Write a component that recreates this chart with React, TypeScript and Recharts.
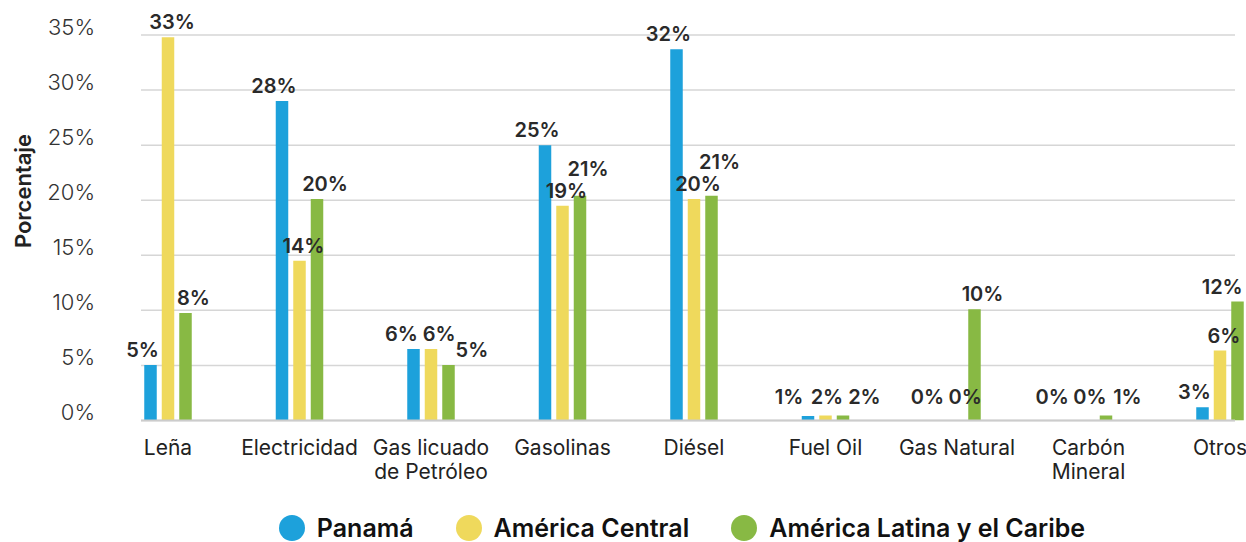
import React from "react";
import {
  BarChart,
  Bar,
  XAxis,
  YAxis,
  CartesianGrid,
  Legend,
  LabelList,
  Label,
} from "recharts";

const categories = [
  "Leña",
  "Electricidad",
  "Gas licuado\nde Petróleo",
  "Gasolinas",
  "Diésel",
  "Fuel Oil",
  "Gas Natural",
  "Carbón\nMineral",
  "Otros",
];

// bar heights as drawn (percent)
const panama = [5.05, 29.0, 6.5, 25.0, 33.7, 0.4, 0, 0, 1.2];
const americaCentral = [34.8, 14.5, 6.5, 19.5, 20.1, 0.45, 0, 0, 6.35];
const americaLatina = [9.75, 20.1, 5.05, 20.4, 20.4, 0.45, 10.1, 0.45, 10.8];

// printed labels
const panamaLabels = ["5%", "28%", "6%", "25%", "32%", "1%", "0%", "0%", "3%"];
const centralLabels = ["33%", "14%", "6%", "19%", "20%", "2%", "0%", "0%", "6%"];
const latinaLabels = ["8%", "20%", "5%", "21%", "21%", "2%", "10%", "1%", "12%"];

const yTicks = [0, 5, 10, 15, 20, 25, 30, 35];

const series = [
  { key: "panama", name: "Panamá", color: "#1DA1DB", values: panama, labels: panamaLabels },
  { key: "central", name: "América Central", color: "#EFD95C", values: americaCentral, labels: centralLabels },
  { key: "latina", name: "América Latina y el Caribe", color: "#88B944", values: americaLatina, labels: latinaLabels },
];

const data = categories.map((category, i) => {
  const row: Record<string, string | number> = { category };
  series.forEach((s) => {
    row[s.key] = s.values[i];
  });
  return row;
});

const FONT = "Inter, 'Open Sans', sans-serif";
const W = 1246;
const H = 542;
const MARGIN = { top: 35, right: 11, bottom: 0, left: 0 };
const Y_AXIS_W = 141;
const X_AXIS_H = 93.5;
const LEGEND_H = 28;
const Y_MAX = 35;
const PLOT_BOTTOM = H - MARGIN.bottom - LEGEND_H - X_AXIS_H;
const PX_PER_UNIT = (PLOT_BOTTOM - MARGIN.top) / Y_MAX;

const BAR_SIZE = 12.5;
const BAR_GAP = 5;
const BAR_PITCH = BAR_SIZE + BAR_GAP;

const LABEL_FONT = 20;
const LABEL_GAP = 8;
const LABEL_LINE = 15;
const LABEL_LIFT = 22;
const LABEL_PAD = 7;
const LABEL_MIN_LIFT = 17;
const LABEL_DX = [-8, 4, 8];

const labelWidth = (t: string) => (t.length - 1) * 0.64 * LABEL_FONT + 0.9 * LABEL_FONT;

// positions of the three labels of one category, relative to the first bar's centre
function placeLabels(index: number) {
  const items = series.map((s, k) => {
    const top = PLOT_BOTTOM - s.values[index] * PX_PER_UNIT;
    return {
      text: s.labels[index],
      x: k * BAR_PITCH + LABEL_DX[k],
      bottom: Math.min(top - LABEL_GAP, PLOT_BOTTOM - LABEL_MIN_LIFT),
      w: labelWidth(s.labels[index]),
    };
  });
  for (let pass = 0; pass < 5; pass++) {
    for (let k = 1; k < items.length; k++) {
      for (let p = 0; p < k; p++) {
        const a = items[p];
        const b = items[k];
        const need = (a.w + b.w) / 2 + LABEL_PAD;
        const dist = Math.abs(a.x - b.x);
        const dy = Math.abs(a.bottom - b.bottom);
        if (dist >= need - 0.5 || dy >= LABEL_LIFT) continue;
        if (dy < 1.5) {
          // same level: push apart sideways
          const shift = (need - dist) / 2;
          a.x -= shift;
          b.x += shift;
        } else if (dy < LABEL_LINE) {
          b.bottom = a.bottom - LABEL_LIFT;
        } else {
          // nearly clear vertically: nudge sideways
          b.x = a.x + (a.w + b.w) / 2 + 2;
        }
      }
    }
  }
  return items;
}

// drawn from the last series, whose bars exist in every category
const renderGroupLabels = (props: any) => {
  const vb = props.viewBox ?? props;
  const x = Number(vb.x ?? props.x);
  const width = Number(vb.width ?? props.width);
  const index = Number(props.index);
  const firstCenter = x + width / 2 - (series.length - 1) * BAR_PITCH;
  return (
    <g>
      {placeLabels(index).map((item, k) => (
        <text
          key={k}
          x={Math.min(firstCenter + item.x, W - item.w / 2 - 2)}
          y={item.bottom}
          textAnchor="middle"
          fill="#2a2a2a"
          fontSize={LABEL_FONT}
          fontWeight={600}
          fontFamily={FONT}
        >
          {item.text}
        </text>
      ))}
    </g>
  );
};

const CategoryTick = ({ x, y, payload }: any) => {
  const lines = String(payload.value).split("\n");
  return (
    <text x={x} y={y} textAnchor="middle" fill="#222" fontSize={21} fontFamily={FONT}>
      {lines.map((line, i) => (
        <tspan key={i} x={x} dy={i === 0 ? 34 : 24}>
          {line}
        </tspan>
      ))}
    </text>
  );
};

const PercentTick = ({ x, y, payload }: any) => (
  <text
    x={x}
    y={y - 8}
    dy="0.36em"
    textAnchor="end"
    fill="#333"
    fontSize={22}
    fontWeight={300}
    fontFamily={FONT}
  >
    {payload.value}%
  </text>
);

const AxisTitle = () => (
  <text
    transform="translate(22.5,191) rotate(-90)"
    textAnchor="middle"
    dominantBaseline="central"
    fill="#222"
    fontSize={22}
    fontWeight={600}
    fontFamily={FONT}
  >
    Porcentaje
  </text>
);

const LegendContent = () => (
  <div
    style={{
      display: "flex",
      justifyContent: "center",
      alignItems: "center",
      height: LEGEND_H,
      paddingLeft: 118,
      gap: 42,
      fontFamily: FONT,
    }}
  >
    {series.map((s) => (
      <div key={s.key} style={{ display: "flex", alignItems: "center" }}>
        <span
          style={{
            width: 26,
            height: 26,
            borderRadius: "50%",
            background: s.color,
            marginRight: 12,
            display: "inline-block",
          }}
        />
        <span style={{ fontSize: 25, fontWeight: 600, color: "#111" }}>{s.name}</span>
      </div>
    ))}
  </div>
);

export default function App() {
  return (
    <div style={{ position: "absolute", left: 0, top: 0, width: W, height: H, background: "#fff" }}>
      <BarChart width={W} height={H} data={data} margin={MARGIN} barGap={BAR_GAP}>
        <CartesianGrid vertical={false} stroke="#d6d6d6" strokeWidth={1.5} />
        <XAxis
          dataKey="category"
          height={X_AXIS_H}
          interval={0}
          tick={<CategoryTick />}
          tickSize={0}
          tickMargin={0}
          tickLine={false}
          axisLine={{ stroke: "#cccccc", strokeWidth: 2 }}
          padding={{ left: -38.75, right: -50.75 }}
        />
        <YAxis
          width={Y_AXIS_W}
          domain={[0, Y_MAX]}
          ticks={yTicks}
          tick={<PercentTick />}
          tickSize={0}
          tickMargin={46}
          tickLine={false}
          axisLine={false}
          allowDataOverflow
        >
          <Label content={<AxisTitle />} />
        </YAxis>
        <Legend
          verticalAlign="bottom"
          content={<LegendContent />}
          wrapperStyle={{ left: 0, width: W, height: LEGEND_H }}
        />
        {series.map((s, k) => (
          <Bar
            key={s.key}
            dataKey={s.key}
            name={s.name}
            fill={s.color}
            barSize={BAR_SIZE}
            isAnimationActive={false}
          >
            {k === series.length - 1 && (
              <LabelList dataKey={s.key} content={renderGroupLabels} />
            )}
          </Bar>
        ))}
      </BarChart>
    </div>
  );
}
